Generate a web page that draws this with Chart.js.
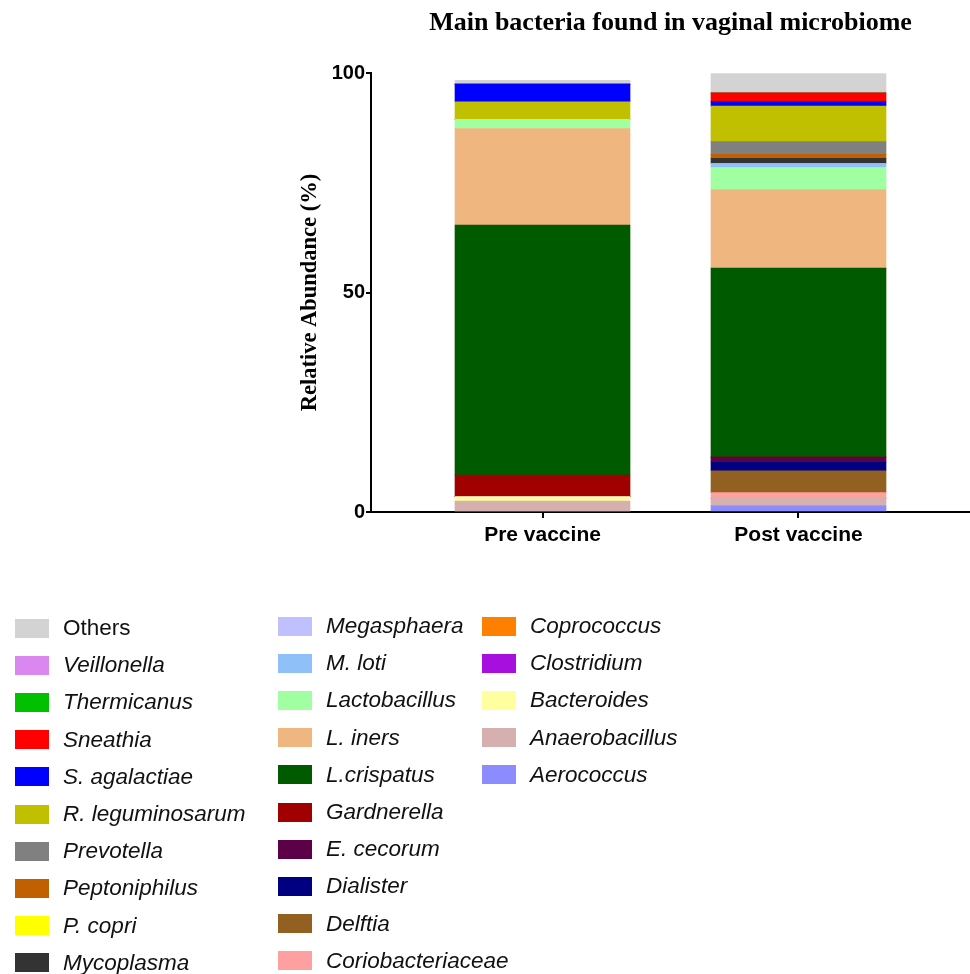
<!DOCTYPE html>
<html>
<head>
<meta charset="utf-8">
<script src="https://cdn.jsdelivr.net/npm/chart.js@4"></script>
<style>
  html, body { margin: 0; padding: 0; background: #fff; width: 970px; height: 974px; overflow: hidden; }
  #wrap { position: absolute; left: 0; top: 0; width: 970px; height: 560px; }
  #legend { position: absolute; left: 0; top: 0; width: 970px; height: 974px; pointer-events: none;
            font-family: "Liberation Sans", Arial, sans-serif; font-size: 22.5px; color: #111; }
  .item { position: absolute; height: 30px; display: flex; align-items: center; white-space: nowrap; }
  .sw { width: 34px; height: 19px; margin-right: 14px; flex: none; }
  .lbl { font-style: italic; }
  .lbl.plain { font-style: normal; }
</style>
</head>
<body>
<div id="wrap"><canvas id="c" width="970" height="560"></canvas></div>
<div id="legend"></div>
<script>
// Categories (x axis)
const categories = ['Pre vaccine', 'Post vaccine'];

// Taxa in stacking order, bottom -> top
const taxa = ['Aerococcus','Anaerobacillus','Bacteroides','Clostridium','Coprococcus',
  'Coriobacteriaceae','Delftia','Dialister','E. cecorum','Gardnerella','L.crispatus','L. iners',
  'Lactobacillus','M. loti','Megasphaera','Mycoplasma','P. copri','Peptoniphilus','Prevotella',
  'R. leguminosarum','S. agalactiae','Sneathia','Thermicanus','Veillonella','Others'];

const taxaColors = ['#8C8CFF','#D6AFAF','#FFFFA0','#A60FDD','#FF8000',
  '#FFA0A0','#926020','#000080','#5C0048','#A00000','#005A00','#F0B67F',
  '#A0FFA0','#90C0F8','#C0C0FF','#333333','#FFFF00','#C06000','#808080',
  '#C0C000','#0000FF','#FF0000','#00C000','#DA87F0','#D3D3D3'];

// Relative abundance (%) per taxon, same order as taxa
const preVaccine  = [0, 2.5, 1.0, 0, 0, 0, 0, 0, 0, 4.9, 57.0, 22.0,
  2.1, 0, 0, 0, 0, 0, 0, 4.0, 4.0, 0, 0, 0, 0.9];
const postVaccine = [1.4, 1.7, 0, 0, 0, 1.3, 5.0, 2.1, 1.0, 0, 43.1, 17.9,
  5.0, 0.9, 0, 1.2, 0, 0.9, 2.9, 8.1, 1.1, 1.9, 0, 0, 4.5];

const yTicks = [0, 50, 100];

const datasets = taxa.map((name, i) => ({
  label: name,
  data: [ {x: 1, y: preVaccine[i]}, {x: 2, y: postVaccine[i]} ],
  backgroundColor: taxaColors[i],
  borderWidth: 0,
  barThickness: 175
}));

const chart = new Chart(document.getElementById('c'), {
  type: 'bar',
  data: { datasets },
  options: {
    responsive: false,
    animation: false,
    layout: { padding: { left: 280, right: 0, top: 0, bottom: 0 } },
    plugins: {
      legend: { display: false },
      tooltip: { enabled: false },
      title: {
        display: true,
        fullSize: false,
        text: 'Main bacteria found in vaginal microbiome',
        color: '#000',
        font: { family: '"Liberation Serif", "Times New Roman", serif', size: 26, weight: 'bold' },
        padding: { top: 8, bottom: 34 }
      }
    },
    scales: {
      x: {
        type: 'linear',
        stacked: true,
        offset: false,
        min: 0.33,
        max: 2.67,
        afterBuildTicks: s => { s.ticks = categories.map((c, i) => ({ value: i + 1 })); },
        afterFit: s => { s.height = 48; },
        ticks: {
          callback: v => categories[v - 1] || '',
          color: '#000',
          font: { family: '"Liberation Sans", Arial, sans-serif', size: 21, weight: 'bold' },
          padding: 5,
          maxRotation: 0,
          autoSkip: false
        },
        grid: { display: true, offset: false, drawOnChartArea: false, drawTicks: true, tickLength: 6, color: '#000', lineWidth: 2 },
        border: { display: true, color: '#000', width: 2 }
      },
      y: {
        stacked: true,
        min: 0,
        max: 100,
        afterBuildTicks: s => { s.ticks = yTicks.map(v => ({ value: v })); },
        afterFit: s => { s.width = 91; },
        ticks: {
          color: '#000',
          font: { family: '"Liberation Sans", Arial, sans-serif', size: 20, weight: 'bold' },
          padding: 1
        },
        grid: { display: true, drawOnChartArea: false, drawTicks: true, tickLength: 5, color: '#000', lineWidth: 2 },
        border: { display: true, color: '#000', width: 2 },
        title: {
          display: true,
          text: 'Relative Abundance (%)',
          color: '#000',
          font: { family: '"Liberation Serif", "Times New Roman", serif', size: 22.5, weight: 'bold' },
          padding: { top: 17, bottom: 0 }
        }
      }
    }
  }
});

// HTML legend built from chart datasets (reverse stacking order, column-major)
(function buildLegend() {
  const items = chart.data.datasets.map(d => ({ label: d.label, color: d.backgroundColor })).reverse();
  const cols = [
    { swX: 15,  startY: 628, items: items.slice(0, 10) },
    { swX: 278, startY: 626, items: items.slice(10, 20) },
    { swX: 482, startY: 626, items: items.slice(20) }
  ];
  const leg = document.getElementById('legend');
  const step = 37.2;
  cols.forEach(col => {
    col.items.forEach((it, r) => {
      const div = document.createElement('div');
      div.className = 'item';
      div.style.left = col.swX + 'px';
      div.style.top = (col.startY + r * step - 15) + 'px';
      const sw = document.createElement('span');
      sw.className = 'sw';
      sw.style.background = it.color;
      const lb = document.createElement('span');
      lb.className = 'lbl' + (it.label === 'Others' ? ' plain' : '');
      lb.textContent = it.label;
      div.appendChild(sw);
      div.appendChild(lb);
      leg.appendChild(div);
    });
  });
})();
</script>
</body>
</html>
